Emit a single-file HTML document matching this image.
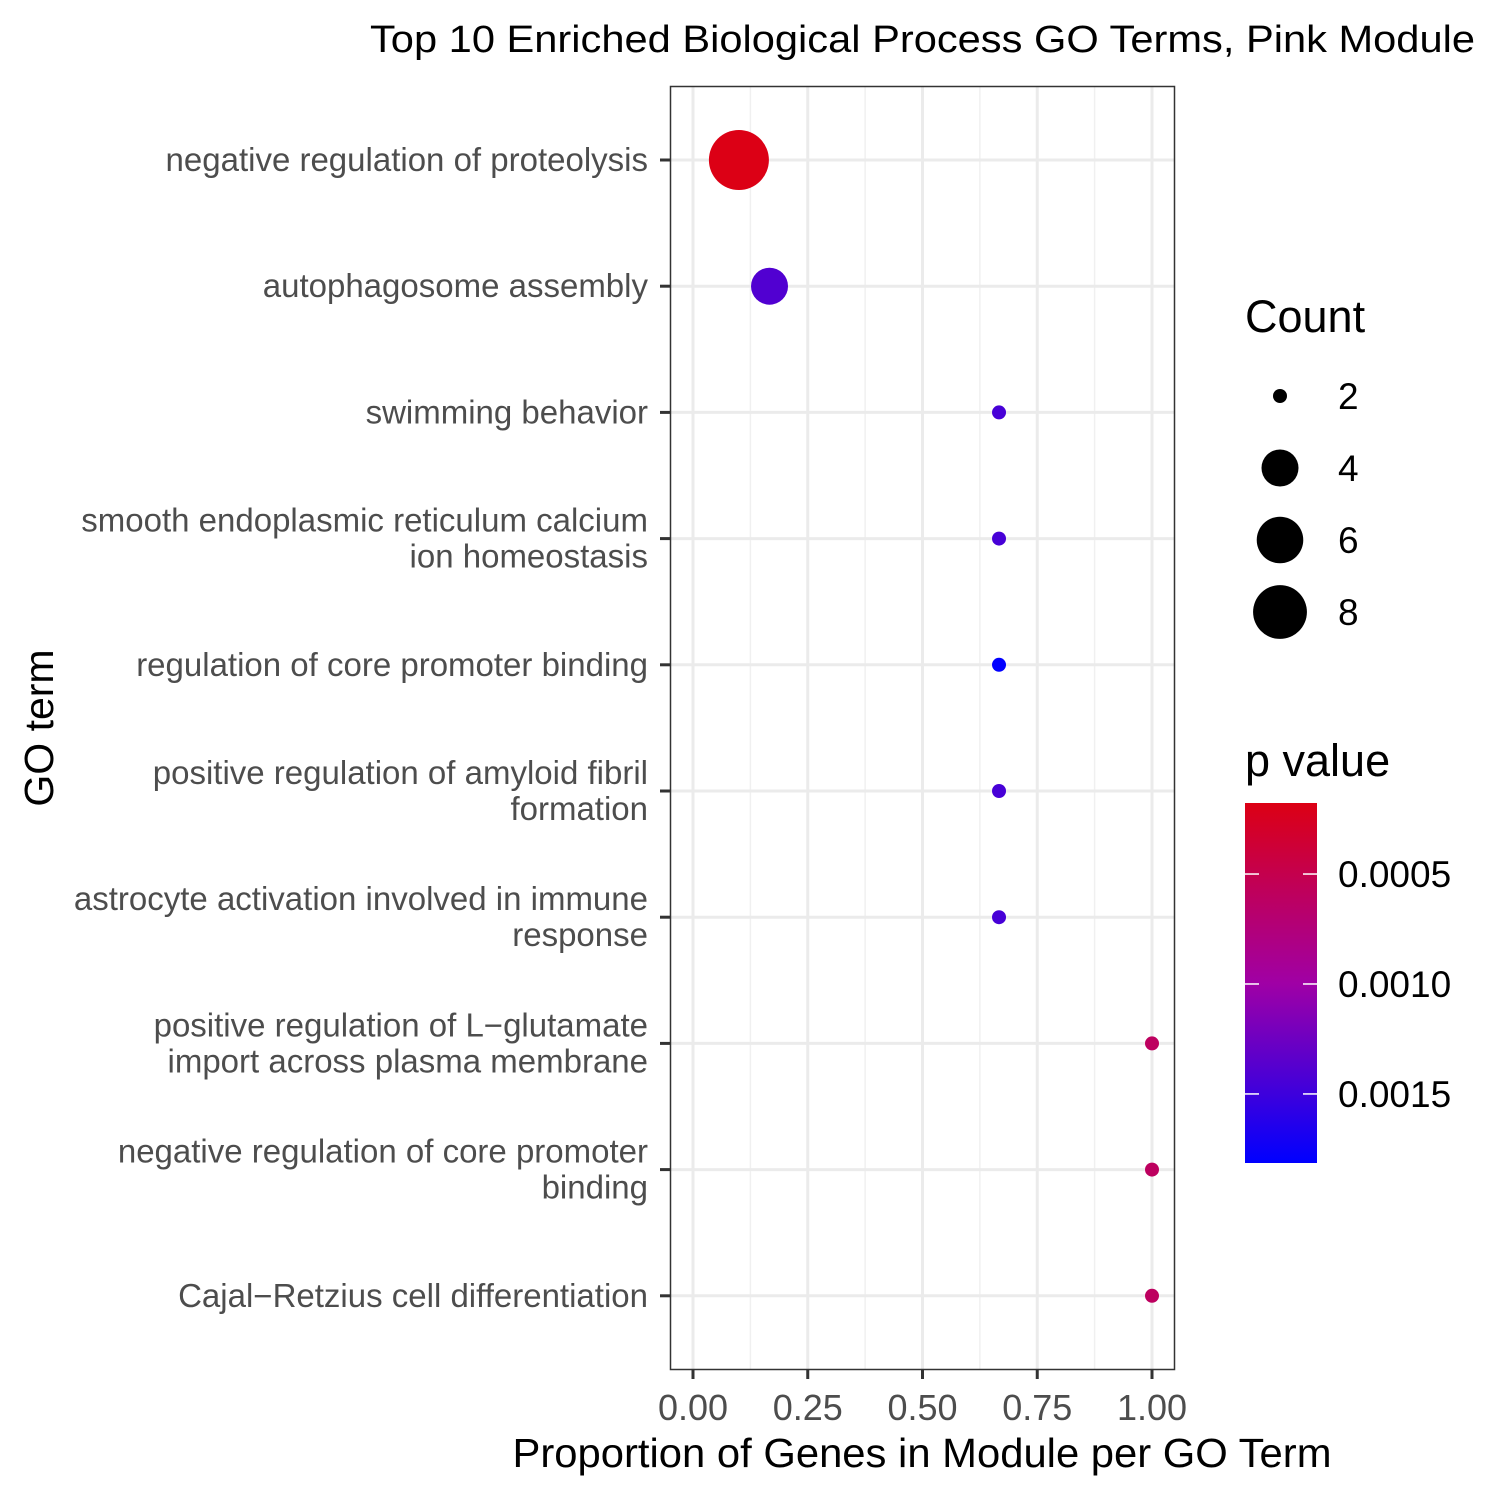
<!DOCTYPE html>
<html><head><meta charset="utf-8"><style>
html,body{margin:0;padding:0;background:#fff;}
svg{display:block;font-family:"Liberation Sans",Arial,sans-serif;}
</style></head><body>
<svg id="chart" width="1500" height="1500" viewBox="0 0 1500 1500">
<defs>
<linearGradient id="pgrad" x1="0" y1="0" x2="0" y2="1">
<stop offset="0" stop-color="rgb(220,0,20)"/>
<stop offset="0.5" stop-color="rgb(160,0,165)"/>
<stop offset="1" stop-color="rgb(0,0,255)"/>
</linearGradient>
</defs>
<text x="1475" y="52" font-size="38" text-anchor="end" fill="#000" textLength="1105" lengthAdjust="spacingAndGlyphs">Top 10 Enriched Biological Process GO Terms, Pink Module</text>
<g id="grid"></g>
<rect x="670.5" y="86.5" width="504" height="1283" fill="none" stroke="#333" stroke-width="1.5"/>
<g id="points"></g>
<g id="yaxis"></g>
<g id="xaxis"></g>
<text x="922" y="1467" font-size="41" text-anchor="middle" fill="#000" textLength="819" lengthAdjust="spacingAndGlyphs">Proportion of Genes in Module per GO Term</text>
<text transform="translate(53,728) rotate(-90)" font-size="41" text-anchor="middle" fill="#000">GO term</text>
<g>
<text x="1245" y="332" font-size="45" fill="#000">Count</text>
<g id="sizeleg"></g>
</g>
<g>
<text x="1245" y="776" font-size="45" fill="#000">p value</text>
<rect x="1245" y="803" width="72" height="360" fill="url(#pgrad)"/>
<g id="colleg"></g>
</g>
</svg>
<script>
const terms = [
 ["negative regulation of proteolysis"],
 ["autophagosome assembly"],
 ["swimming behavior"],
 ["smooth endoplasmic reticulum calcium","ion homeostasis"],
 ["regulation of core promoter binding"],
 ["positive regulation of amyloid fibril","formation"],
 ["astrocyte activation involved in immune","response"],
 ["positive regulation of L\u2212glutamate","import across plasma membrane"],
 ["negative regulation of core promoter","binding"],
 ["Cajal\u2212Retzius cell differentiation"]
];
const proportions = [0.1, 0.1667, 0.6667, 0.6667, 0.6667, 0.6667, 0.6667, 1.0, 1.0, 1.0];
const counts = [10, 4, 2, 2, 2, 2, 2, 2, 2, 2];
const pvalues = [0.00018, 0.0014, 0.00145, 0.00145, 0.00181, 0.00145, 0.00145, 0.0006, 0.0006, 0.0006];
const xTicks = [0, 0.25, 0.5, 0.75, 1.0];
const xTickLabels = ["0.00","0.25","0.50","0.75","1.00"];
const sizeBreaks = [2, 4, 6, 8];
const pBreaks = [0.0005, 0.0010, 0.0015];
const pBreakLabels = ["0.0005","0.0010","0.0015"];

const NS="http://www.w3.org/2000/svg";
function mk(tag, attrs, parent){const e=document.createElementNS(NS,tag);for(const k in attrs)e.setAttribute(k,attrs[k]);parent.appendChild(e);return e;}
const X0=693, X1=1152;
const xs = v => X0 + (X1-X0)*v;
const ys = i => 160 + i*126.2;
const cMin=2, cMax=Math.max(...counts), rMin=7, rMax=30;
const rs = c => rMin + (rMax-rMin)*Math.sqrt((c-cMin)/(cMax-cMin));
const pMin=0.000177, pMax=0.001814;
const pY = p => 803 + (p-pMin)/(pMax-pMin)*360;
function pColor(p){
  let t=Math.max(0,Math.min(1,(p-pMin)/(pMax-pMin)));
  const a=[220,0,20], m=[160,0,165], b=[0,0,255];
  let c0,c1,u; if(t<0.5){c0=a;c1=m;u=t/0.5;} else {c0=m;c1=b;u=(t-0.5)/0.5;}
  return "rgb("+c0.map((v,i)=>Math.round(v+(c1[i]-v)*u)).join(",")+")";
}
const grid=document.getElementById('grid');
for(let i=0;i<xTicks.length-1;i++){
  const l=mk('line',{x1:xs((xTicks[i]+xTicks[i+1])/2),x2:xs((xTicks[i]+xTicks[i+1])/2),y1:87,y2:1369,stroke:'#f0f0f0','stroke-width':1.5},grid);
  
  
}
xTicks.forEach(v=>{
  const l=mk('line',{x1:xs(v),x2:xs(v),y1:87,y2:1369,stroke:'#ebebeb','stroke-width':3},grid);
  
  
});
terms.forEach((t,i)=>{
  const l=mk('line',{x1:671,x2:1174,y1:ys(i),y2:ys(i),stroke:'#ebebeb','stroke-width':3},grid);
  
  
});
const pts=document.getElementById('points');
terms.forEach((t,i)=>{
  const c=mk('circle',{cx:xs(proportions[i]),cy:ys(i),r:rs(counts[i]),fill:pColor(pvalues[i])},pts);
  
  
});
const ya=document.getElementById('yaxis');
terms.forEach((t,i)=>{
  const tk=mk('line',{x1:660,x2:670,y1:ys(i),y2:ys(i),stroke:'#333','stroke-width':3},ya);
  
  
  const n=t.length;
  t.forEach((line,j)=>{
    const tx=mk('text',{x:648,y:ys(i)+11+(j-(n-1)/2)*36,'font-size':33,'text-anchor':'end',fill:'#4d4d4d'},ya);
    tx.textContent=line;
    
    
  });
});
const xa=document.getElementById('xaxis');
xTicks.forEach((v,i)=>{
  const tk=mk('line',{x1:xs(v),x2:xs(v),y1:1369,y2:1379,stroke:'#333','stroke-width':3},xa);
  
  
  const tx=mk('text',{x:xs(v),y:1420,'font-size':36,'text-anchor':'middle',fill:'#4d4d4d'},xa);
  tx.textContent=xTickLabels[i];
  
  
});
const sl=document.getElementById('sizeleg');
sizeBreaks.forEach((b,i)=>{
  const y=396+i*72;
  const c=mk('circle',{cx:1280,cy:y,r:rs(b),fill:'#000'},sl);
  
  
  const tx=mk('text',{x:1338,y:y+13,'font-size':37,fill:'#000'},sl);
  tx.textContent=b;
  
  
});
const cl=document.getElementById('colleg');
pBreaks.forEach((p,i)=>{
  const y=pY(p);
  const a=mk('line',{x1:1245,x2:1259,y1:y,y2:y,stroke:'#fff','stroke-width':1.5},cl);
  
  
  const b=mk('line',{x1:1303,x2:1317,y1:y,y2:y,stroke:'#fff','stroke-width':1.5},cl);
  
  
  const tx=mk('text',{x:1338,y:y+13,'font-size':37,fill:'#000'},cl);
  tx.textContent=pBreakLabels[i];
  
  
});
</script>
</body></html>
